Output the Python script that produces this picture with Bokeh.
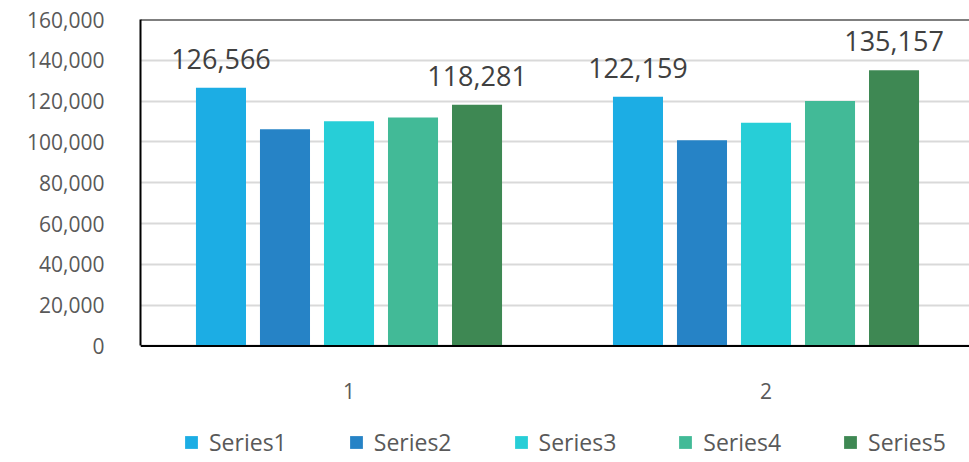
from bokeh.plotting import figure
from bokeh.models import (Range1d, FixedTicker, NumeralTickFormatter, ColumnDataSource,
                          LabelSet, Legend, LegendItem, Span)
from bokeh.core.properties import value
from bokeh.embed import file_html
from bokeh.resources import INLINE

categories = ["1", "2"]
series_names = ["Series1", "Series2", "Series3", "Series4", "Series5"]
series1 = [126566, 122159]
series2 = [106200, 100800]
series3 = [110100, 109400]
series4 = [112000, 120000]
series5 = [118281, 135157]
series_values = [series1, series2, series3, series4, series5]
colors = ["#1CADE4", "#2683C6", "#27CED7", "#42BA97", "#3E8853"]
labeled_series = [0, 4]
y_ticks = [0, 20000, 40000, 60000, 80000, 100000, 120000, 140000, 160000]

FONT = "Open Sans"
pitch = 0.1535
bar_w = 0.12

# frame extends below zero so the legend and category labels can sit inside it
p = figure(width=969, height=462, output_backend="svg", toolbar_location=None,
           x_range=Range1d(0, 1.988), y_range=Range1d(-57100, 160000),
           x_axis_location=None,
           min_border_left=140, min_border_right=0, min_border_top=19, min_border_bottom=0)
p.outline_line_color = None
p.background_fill_color = "white"
p.border_fill_color = "white"

items = []
for k, (name, vals, col) in enumerate(zip(series_names, series_values, colors)):
    xs = [i + 0.5 + (k - 2) * pitch for i in range(len(categories))]
    src = ColumnDataSource(dict(x=xs, top=vals, lab=[f"{v:,}" for v in vals]))
    r = p.vbar(x="x", top="top", bottom=0, width=bar_w, source=src, fill_color=col, line_color=None)
    items.append(LegendItem(label=name, renderers=[r]))
    if k in labeled_series:
        ls = LabelSet(x="x", y="top", text="lab", source=src, text_align="center",
                      text_baseline="alphabetic", y_offset=19, text_font=value(FONT),
                      text_font_size=value("27px"), text_color="#404040")
        p.add_layout(ls)

# category labels under the x axis line
cat_src = ColumnDataSource(dict(x=[i + 0.5 for i in range(len(categories))],
                                y=[0] * len(categories), t=categories))
p.add_layout(LabelSet(x="x", y="y", text="t", source=cat_src, text_align="center",
                      text_baseline="middle", y_offset=-45, text_font=value(FONT),
                      text_font_size=value("21px"), text_color="#595959"))

# y axis
p.yaxis.ticker = FixedTicker(ticks=y_ticks)
p.yaxis.formatter = NumeralTickFormatter(format="0,0")
p.yaxis.bounds = (0, 160000)
p.yaxis.major_tick_line_color = None
p.yaxis.minor_tick_line_color = None
p.yaxis.axis_line_color = "black"
p.yaxis.axis_line_width = 2
p.yaxis.major_label_text_font = FONT
p.yaxis.major_label_text_font_size = "21px"
p.yaxis.major_label_text_color = "#595959"
p.yaxis.major_label_standoff = 30

p.xgrid.grid_line_color = None
p.ygrid.grid_line_color = "#d9d9d9"
p.ygrid.grid_line_width = 2

p.add_layout(Span(location=160000, dimension="width", line_color="black", line_width=2))
p.add_layout(Span(location=0, dimension="width", line_color="black", line_width=2))

legend = Legend(items=items, orientation="horizontal", location=(43, 4),
                padding=0, margin=0, spacing=61, label_standoff=10,
                glyph_width=16, glyph_height=16,
                label_text_font=FONT, label_text_font_size="23px", label_text_color="#595959",
                border_line_color=None, background_fill_alpha=0)
p.add_layout(legend, "center")

open("out.html", "w").write(file_html(p, INLINE))
